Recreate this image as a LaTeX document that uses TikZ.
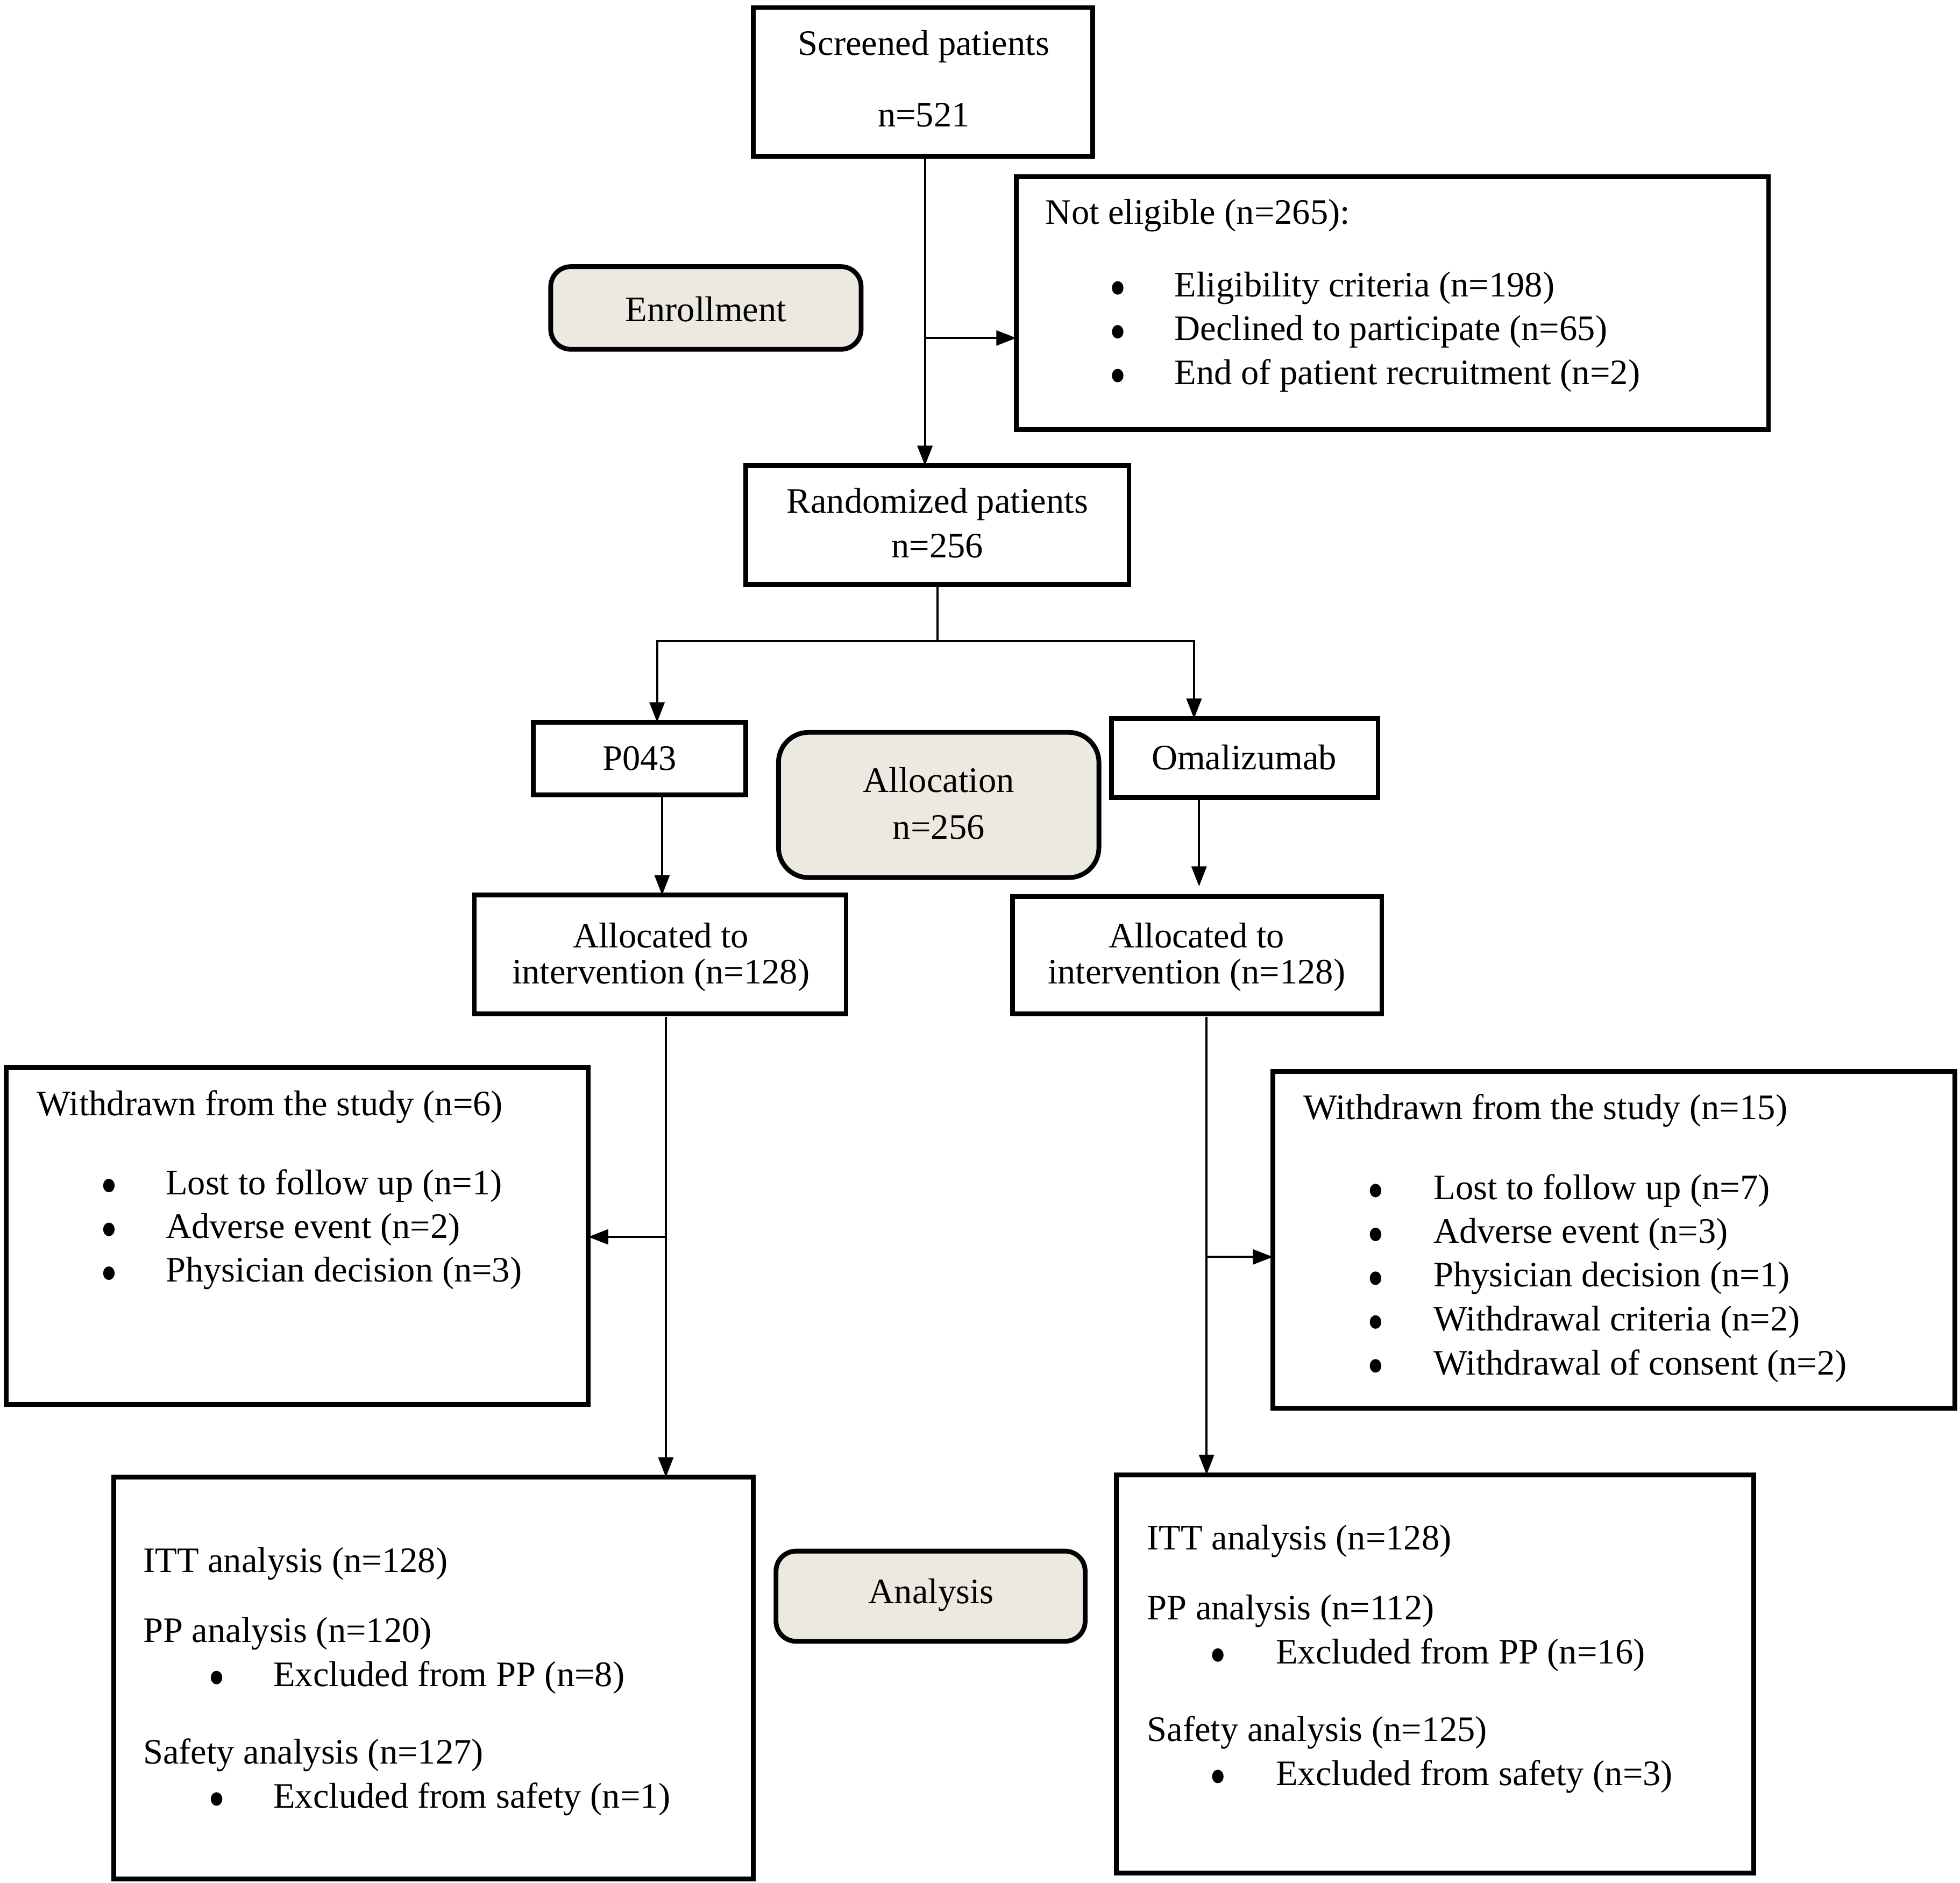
\documentclass[tikz,border=0pt]{standalone}
\usepackage{fontspec}
\setmainfont{Liberation Serif}
\usetikzlibrary{arrows.meta,shapes.geometric}
\definecolor{beige}{HTML}{ECE9E0}
\begin{document}
\begin{tikzpicture}[x=0.5pt,y=-0.5pt,
  box/.style={draw, line width=1.9pt, inner sep=0pt, outer sep=0pt},
  rbox/.style={box, fill=beige, rounded corners=8pt},
  txt/.style={inner sep=0pt, font=\fontsize{14.3}{17}\selectfont},
  lt/.style={txt, anchor=west},
  bul/.style={ellipse, fill=black, inner sep=0pt, minimum width=4.6pt, minimum height=5.4pt},
  arr/.style={line width=0.8pt, -{Triangle[length=8pt,width=6pt]}},
  ln/.style={line width=0.8pt}]
\useasboundingbox (0,0) rectangle (1566,1504);
\newcommand\bx[6]{\node[#6, minimum width={(#4-#2)*0.5pt}, minimum height={(#5-#3)*0.5pt}] (#1) at ({(#2+#4)/2},{(#3+#5)/2}) {};}
% boxes
\bx{screened}{602}{6}{873}{125}{box}
\bx{notelig}{812}{141}{1413}{343}{box}
\bx{enroll}{440}{213}{688}{279}{rbox}
\bx{random}{596}{372}{902}{467}{box}
\bx{p043}{426}{577}{596}{635}{box}
\bx{alloc}{622}{585}{878}{701}{rbox, rounded corners=12pt}
\bx{omal}{888}{574}{1101}{637}{box}
\bx{allocL}{379}{715}{676}{810}{box}
\bx{allocR}{809}{716}{1104}{810}{box}
\bx{wdL}{5}{853}{470}{1122}{box}
\bx{wdR}{1017}{856}{1562}{1125}{box}
\bx{anL}{91}{1180}{602}{1501}{box}
\bx{analysis}{620}{1239}{867}{1311}{rbox}
\bx{anR}{892}{1178}{1401}{1496}{box}
% texts
\node[txt] (t1) at (738,37) {Screened patients};
\node[txt] (t2) at (738,92) {n=521};
\node[lt] (t3) at (835,172) {Not eligible (n=265):};
\node[bul] (t4b) at (893,230) {};
\node[lt] (t4) at (938,230) {Eligibility criteria (n=198)};
\node[bul] (t5b) at (893,265) {};
\node[lt] (t5) at (938,265) {Declined to participate (n=65)};
\node[bul] (t6b) at (893,300) {};
\node[lt] (t6) at (938,300) {End of patient recruitment (n=2)};
\node[txt] (t7) at (564,247) {Enrollment};
\node[txt] (t8) at (749,403) {Randomized patients};
\node[txt] (t9) at (749,436) {n=256};
\node[txt] (t10) at (511,606) {P043};
\node[txt] (t11) at (750,623) {Allocation};
\node[txt] (t12) at (750,661) {n=256};
\node[txt] (t13) at (994,605) {Omalizumab};
\node[txt] (t14) at (528,747) {Allocated to};
\node[txt] (t15) at (528,779) {intervention (n=128)};
\node[txt] (t16) at (956,747) {Allocated to};
\node[txt] (t17) at (956,779) {intervention (n=128)};
% withdrawn left
\node[lt] (t18) at (29,884) {Withdrawn from the study (n=6)};
\node[bul] (t19b) at (87,947) {};
\node[lt] (t19) at (132,947) {Lost to follow up (n=1)};
\node[bul] (t20b) at (87,982) {};
\node[lt] (t20) at (132,982) {Adverse event (n=2)};
\node[bul] (t21b) at (87,1017) {};
\node[lt] (t21) at (132,1017) {Physician decision (n=3)};
% withdrawn right
\node[lt] (t22) at (1041,887) {Withdrawn from the study (n=15)};
\node[bul] (t23b) at (1099,951) {};
\node[lt] (t23) at (1145,951) {Lost to follow up (n=7)};
\node[bul] (t24b) at (1099,986) {};
\node[lt] (t24) at (1145,986) {Adverse event (n=3)};
\node[bul] (t25b) at (1099,1021) {};
\node[lt] (t25) at (1145,1021) {Physician decision (n=1)};
\node[bul] (t26b) at (1099,1056) {};
\node[lt] (t26) at (1145,1056) {Withdrawal criteria (n=2)};
\node[bul] (t27b) at (1099,1091) {};
\node[lt] (t27) at (1145,1091) {Withdrawal of consent (n=2)};
% analysis left
\node[lt] (t28) at (114,1249) {ITT analysis (n=128)};
\node[lt] (t29) at (114,1305) {PP analysis (n=120)};
\node[bul] (t30b) at (173,1340) {};
\node[lt] (t30) at (218,1340) {Excluded from PP (n=8)};
\node[lt] (t31) at (114,1402) {Safety analysis (n=127)};
\node[bul] (t32b) at (173,1437) {};
\node[lt] (t32) at (218,1437) {Excluded from safety (n=1)};
\node[txt] (t33) at (744,1274) {Analysis};
% analysis right
\node[lt] (t34) at (916,1231) {ITT analysis (n=128)};
\node[lt] (t35) at (916,1287) {PP analysis (n=112)};
\node[bul] (t36b) at (973,1322) {};
\node[lt] (t36) at (1019,1322) {Excluded from PP (n=16)};
\node[lt] (t37) at (916,1384) {Safety analysis (n=125)};
\node[bul] (t38b) at (973,1419) {};
\node[lt] (t38) at (1019,1419) {Excluded from safety (n=3)};
% connectors
\coordinate (c1) at (739,125);
\coordinate (c2) at (739,270);
\draw[arr] (c1) -- (c1 |- random.north);
\draw[arr] (c2) -- (c2 -| notelig.west);
\coordinate (c3) at (749,467);
\coordinate (c4) at (749,512);
\coordinate (c5) at (525,512);
\coordinate (c6) at (954,512);
\draw[ln] (c3) -- (c4);
\draw[arr] (c4) -- (c5) -- (c5 |- p043.north);
\draw[arr] (c4) -- (c6) -- (c6 |- omal.north);
\coordinate (c7) at (529,635);
\draw[arr] (c7) -- (c7 |- allocL.north);
\coordinate (c8) at (958,637);
\coordinate (c9) at (958,708);
\draw[arr] (c8) -- (c9);
\coordinate (c10) at (532,812);
\coordinate (c11) at (532,988);
\draw[arr] (c10) -- (c10 |- anL.north);
\draw[arr] (c11) -- (c11 -| wdL.east);
\coordinate (c12) at (964,812);
\coordinate (c13) at (964,1004);
\draw[arr] (c12) -- (c12 |- anR.north);
\draw[arr] (c13) -- (c13 -| wdR.west);
\end{tikzpicture}
\end{document}
